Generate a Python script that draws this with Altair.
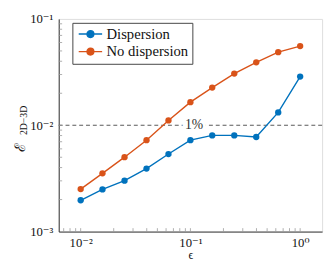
import altair as alt
import pandas as pd
import numpy as np

# ---- data ----
eps = [0.01, 0.0158, 0.0251, 0.0398, 0.0631, 0.1, 0.158, 0.251, 0.398, 0.631, 1.0]
dispersion = [0.00197, 0.00249, 0.00301, 0.00391, 0.00536, 0.00724, 0.00803, 0.00803, 0.00776, 0.0132, 0.0287]
no_dispersion = [0.00251, 0.00353, 0.00501, 0.00724, 0.0111, 0.0165, 0.0226, 0.0306, 0.0391, 0.0487, 0.0555]
series_names = ["Dispersion", "No dispersion"]
series_colors = ["#0072BD", "#D95319"]

x_major = [0.01, 0.1, 1.0]
x_major_labels = ["10⁻²", "10⁻¹", "10⁰"]
y_major = [0.001, 0.01, 0.1]
y_major_labels = ["10⁻³", "10⁻²", "10⁻¹"]
threshold = 0.01
threshold_label = "1%"
threshold_label_x = 0.108

W, H = 270, 218
FONT = "'Liberation Serif', 'Times New Roman', 'DejaVu Serif', serif"
XDOM = [10 ** -2.2, 10 ** 0.2]
YDOM = [1e-3, 1e-1]

df = pd.DataFrame({
    "eps": eps * 2,
    "err": dispersion + no_dispersion,
    "series": [series_names[0]] * len(eps) + [series_names[1]] * len(eps),
})

xs = alt.Scale(type="log", domain=XDOM, nice=False)
ys = alt.Scale(type="log", domain=YDOM, nice=False)
cs = alt.Scale(domain=series_names, range=series_colors)


def label_expr(vals, labels):
    expr = "''"
    for v, l in reversed(list(zip(vals, labels))):
        expr = f"(abs(log(datum.value)/LN10 - ({np.log10(v):.3f})) < 0.01 ? '{l}' : {expr})"
    return expr


x_axis = alt.Axis(values=x_major, labelExpr=label_expr(x_major, x_major_labels), ticks=False,
                  grid=False, title="ϵ", titleFont=FONT, titleFontSize=12, titleFontWeight="normal",
                  labelFont=FONT, labelFontSize=13, labelPadding=5, titlePadding=1,
                  domainColor="#333", labelColor="#111", titleColor="#111", labelFlush=False)
y_axis = alt.Axis(values=y_major, labelExpr=label_expr(y_major, y_major_labels), ticks=False,
                  grid=False, title=None, labelFont=FONT, labelFontSize=13, labelPadding=6,
                  domainColor="#333", labelColor="#111", labelFlush=False)

lines = alt.Chart(df).mark_line(strokeWidth=1.4).encode(
    x=alt.X("eps:Q", scale=xs, axis=x_axis),
    y=alt.Y("err:Q", scale=ys, axis=y_axis),
    color=alt.Color("series:N", scale=cs, legend=alt.Legend(
        title=None, orient="none", legendX=14, legendY=4,
        symbolType="M-1,0H3.8M0.7,0A0.7,0.7 0 1,0 2.1,0A0.7,0.7 0 1,0 0.7,0",
        symbolSize=100, symbolStrokeWidth=1.4, labelFont=FONT, labelFontSize=15,
        labelColor="#111", strokeColor="#444", fillColor="white", padding=4,
        rowPadding=2, labelOffset=16, cornerRadius=0)),
)
points = alt.Chart(df).mark_circle(size=42, opacity=1).encode(
    x=alt.X("eps:Q", scale=xs),
    y=alt.Y("err:Q", scale=ys),
    color=alt.Color("series:N", scale=cs, legend=None),
)

thr_df = pd.DataFrame({"y": [threshold], "x": [threshold_label_x], "t": [threshold_label]})
rule = alt.Chart(thr_df).mark_rule(color="#555", strokeDash=[4, 3], strokeWidth=1).encode(y=alt.Y("y:Q", scale=ys))
thr_bg = alt.Chart(thr_df).mark_text(font=FONT, fontSize=14, color="white", stroke="white", strokeWidth=7).encode(
    x=alt.X("x:Q", scale=xs), y=alt.Y("y:Q", scale=ys), text="t:N")
thr_txt = alt.Chart(thr_df).mark_text(font=FONT, fontSize=14, color="#333").encode(
    x=alt.X("x:Q", scale=xs), y=alt.Y("y:Q", scale=ys), text="t:N")

# inward minor/major ticks
xt = [m * 10.0 ** d for d in range(-3, 1) for m in range(1, 10) if XDOM[0] <= m * 10.0 ** d <= XDOM[1]]
yt = [m * 10.0 ** d for d in range(-3, 0) for m in range(1, 10) if YDOM[0] < m * 10.0 ** d < YDOM[1]]
xt_df = pd.DataFrame({"v": xt})
yt_df = pd.DataFrame({"v": yt})
xticks = alt.Chart(xt_df).mark_rule(color="#999", strokeWidth=0.8).encode(
    x=alt.X("v:Q", scale=xs), y=alt.value(H), y2=alt.value(H - 3.5))
yticks = alt.Chart(yt_df).mark_rule(color="#999", strokeWidth=0.8).encode(
    y=alt.Y("v:Q", scale=ys), x=alt.value(0), x2=alt.value(3.5))

# y title: script E with subscript
ytitle_df = pd.DataFrame({"t": ["ℰ"], "s": ["2D−3D"]})
ytitle_main = alt.Chart(ytitle_df).mark_text(font=FONT, fontSize=15, angle=270, baseline="middle", color="#111").encode(
    x=alt.value(-40), y=alt.value(132), text="t:N")
ytitle_sub = alt.Chart(ytitle_df).mark_text(font=FONT, fontSize=10, angle=270, baseline="middle", color="#111").encode(
    x=alt.value(-36), y=alt.value(104), text="s:N")

chart = alt.layer(rule, thr_bg, thr_txt, xticks, yticks, lines, points, ytitle_main, ytitle_sub).properties(
    width=W, height=H,
    autosize=alt.AutoSizeParams(type="none"),
    padding={"left": 52, "top": 8, "right": 4, "bottom": 29},
).configure_view(stroke="#888", strokeWidth=1).configure(background="white")

chart.save("out.html", embed_options={"renderer": "svg", "actions": False})
